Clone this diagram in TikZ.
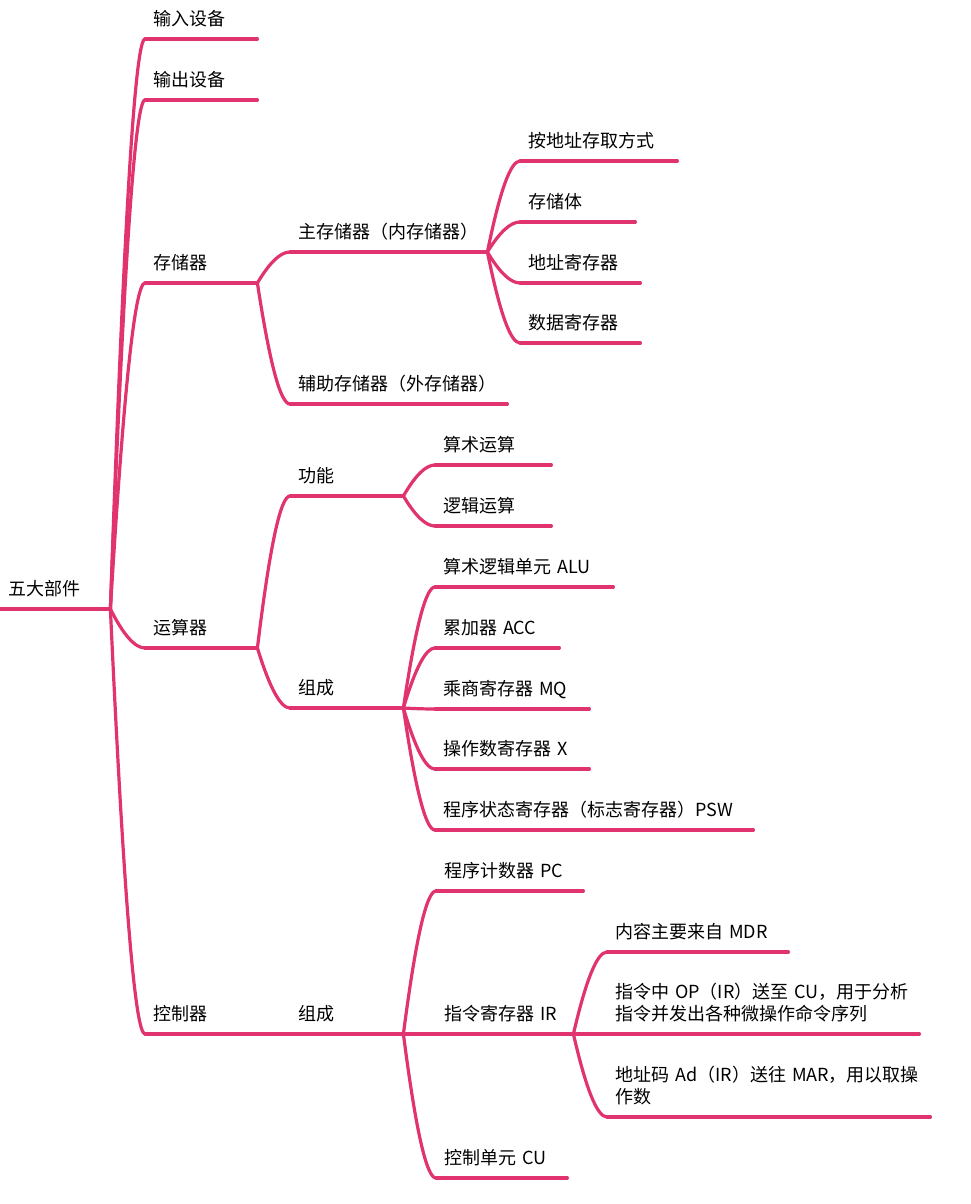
\documentclass[tikz,border=0pt]{standalone}
\usepackage{fontspec}
\setmainfont{Noto Sans CJK SC}
\usetikzlibrary{calc}
\definecolor{mm}{HTML}{E0336F}
\begin{document}
\begin{tikzpicture}[x=1pt,y=-1pt,
  item/.style={anchor=south west, inner xsep=8pt, inner ysep=0pt, text height=14pt, text depth=13pt, align=left, text width=#1, font=\fontsize{18pt}{22pt}\selectfont},
  two/.style={text depth=35pt},
  line/.style={draw=mm, line width=3.2pt, line cap=round},
  curve/.style={to path={let \p1=(\tikztostart), \p2=(\tikztotarget) in .. controls ({\x1+0.38*(\x2-\x1)}, {\y1+0.67*(\y2-\y1)}) and ({\x2-0.29*(\x2-\x1)}, \y2) .. (\tikztotarget)}}
]
\useasboundingbox (0,0) rectangle (971,1204);

% root
\node[item=94pt] (root) at (0,609) {五大部件};
% level 1
\node[item=96pt] (in)  at (145,39)   {输入设备};
\node[item=96pt] (out) at (145,100)  {输出设备};
\node[item=96pt] (mem) at (145,283)  {存储器};
\node[item=96pt] (alu) at (145,648)  {运算器};
\node[item=96pt] (ctl) at (145,1034) {控制器};
% memory
\node[item=181pt] (main) at (290,252) {主存储器（内存储器）};
\node[item=201pt] (aux)  at (290,404) {辅助存储器（外存储器）};
\node[item=141pt] (m1) at (520,161) {按地址存取方式};
\node[item=99pt]  (m2) at (520,222) {存储体};
\node[item=104pt] (m3) at (520,283) {地址寄存器};
\node[item=104pt] (m4) at (520,343) {数据寄存器};
% ALU
\node[item=97pt] (func) at (290,496) {功能};
\node[item=97pt] (comp) at (290,708) {组成};
\node[item=100pt] (f1) at (435,465) {算术运算};
\node[item=100pt] (f2) at (435,526) {逻辑运算};
\node[item=162pt] (c1) at (435,587) {算术逻辑单元~ALU};
\node[item=108pt] (c2) at (435,648) {累加器~ACC};
\node[item=138pt] (c3) at (435,709) {乘商寄存器~MQ};
\node[item=138pt] (c4) at (435,769) {操作数寄存器~X};
\node[item=302pt] (c5) at (435,830) {程序状态寄存器（标志寄存器）PSW};
% control
\node[item=97pt] (ctlc) at (290,1034) {组成};
\node[item=131pt] (pc) at (436,891)  {程序计数器~PC};
\node[item=121pt] (ir) at (436,1034) {指令寄存器~IR};
\node[item=115pt] (cu) at (436,1178) {控制单元~CU};
\node[item=165pt] (i1) at (607,952) {内容主要来自~MDR};
\node[item=296pt,two] (i2) at (607,1034) {指令中~OP（IR）送至~CU，用于分析\\指令并发出各种微操作命令序列};
\node[item=307pt,two] (i3) at (607,1117) {地址码~Ad（IR）送往~MAR，用以取操\\作数};

% underlines
\foreach \n in {root,in,out,mem,alu,ctl,main,aux,m1,m2,m3,m4,func,comp,f1,f2,c1,c2,c3,c4,c5,ctlc,pc,ir,cu,i1,i2,i3}
  \draw[line] (\n.south west) -- (\n.south east);

% connectors
\foreach \p/\c in {root/in,root/out,root/mem,root/alu,root/ctl,
  mem/main,mem/aux,main/m1,main/m2,main/m3,main/m4,
  alu/func,alu/comp,func/f1,func/f2,comp/c1,comp/c2,comp/c3,comp/c4,comp/c5,
  ctl/ctlc,ctlc/pc,ctlc/ir,ctlc/cu,ir/i1,ir/i2,ir/i3}
  \draw[line] (\p.south east) to[curve] (\c.south west);
\end{tikzpicture}
\end{document}
